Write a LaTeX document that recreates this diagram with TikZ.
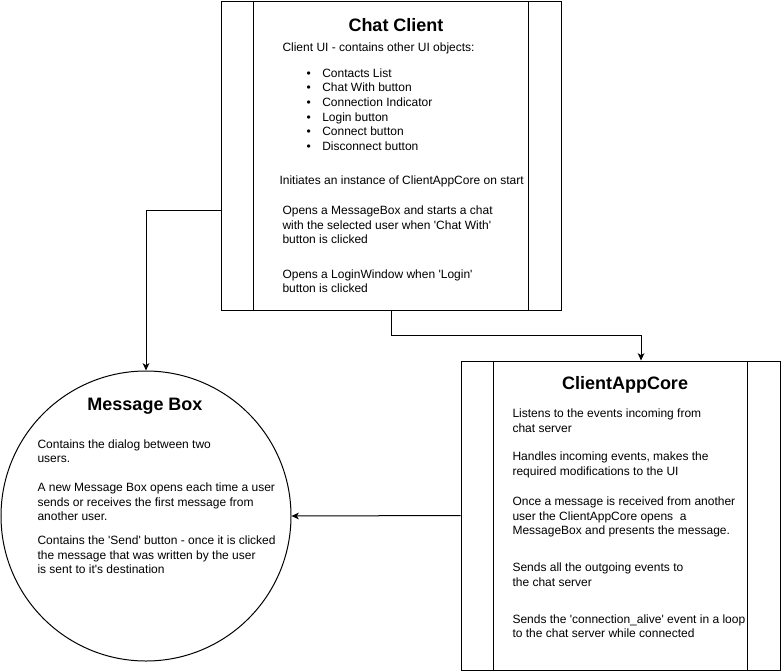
\documentclass[tikz,border=0pt]{standalone}
\usepackage{fontspec}
\newfontfamily\drawfont{Liberation Sans}
\usetikzlibrary{arrows.meta}
\begin{document}
\begin{tikzpicture}
            [x=0.75pt, y=-0.75pt, line width=0.75pt,
             proc/.style ={draw, rectangle, inner sep=0pt,
               path picture={
                 \draw ([xshift=24.5pt]path picture bounding box.north west) -- ([xshift=24.5pt]path picture bounding box.south west);
                 \draw ([xshift=-24.5pt]path picture bounding box.north east) -- ([xshift=-24.5pt]path picture bounding box.south east);}},
             main/.style ={draw, circle, inner sep=0pt, minimum size=217.5pt},
             title/.style ={font=\drawfont\bfseries\fontsize{13.5}{16}\selectfont, inner sep=0pt},
             txt/.style ={font=\drawfont\fontsize{9}{10.9}\selectfont, align=left, anchor=west, inner sep=0pt},
             arr/.style ={-{Stealth[length=5.5pt,width=5pt,inset=1.5pt]}}]
            \useasboundingbox (0,0) rectangle (781,671);
            % the three blocks
            \node[proc, minimum width=255pt, minimum height=231.75pt] (chat) at (391,155.5) {};
            \node[proc, minimum width=239.25pt, minimum height=231.75pt] (core) at (620.5,515.5) {};
            \node[main] (msg) at (146,516) {};
            % Chat Client
            \node[title] (chattitle) at (396,25) {Chat Client};
            \node[txt] (chatui) at (282,48) {Client UI - contains other UI objects:};
            \node[txt] (chatlist) at (306,109.5) {\textbullet\hspace{8.7pt}Contacts List\\
              \textbullet\hspace{8.7pt}Chat With button\\
              \textbullet\hspace{8.7pt}Connection Indicator\\
              \textbullet\hspace{8.7pt}Login button\\
              \textbullet\hspace{8.7pt}Connect button\\
              \textbullet\hspace{8.7pt}Disconnect button};
            \node[txt] (chatinit) at (279,181) {Initiates an instance of ClientAppCore on start};
            \node[txt] (chatopen) at (282,225) {Opens a MessageBox and starts a chat\\with the selected user when 'Chat With'\\button is clicked};
            \node[txt] (chatlogin) at (282,281) {Opens a LoginWindow when 'Login'\\button is clicked};
            % Message Box
            \node[title] (msgtitle) at (145,406) {Message Box};
            \node[txt] (msgdialog) at (37,451) {Contains the dialog between two\\users.};
            \node[txt] (msgnew) at (37,502) {A new Message Box opens each time a user\\sends or receives the first message from\\another user.};
            \node[txt] (msgsend) at (37,555) {Contains the 'Send' button - once it is clicked\\the message that was written by the user\\is sent to it's destination};
            % ClientAppCore
            \node[title] (coretitle) at (625,385) {ClientAppCore};
            \node[txt] (corelisten) at (512,420.5) {Listens to the events incoming from\\chat server};
            \node[txt] (corehandle) at (512,465) {Handles incoming events, makes the\\required modifications to the UI};
            \node[txt] (coreonce) at (512,517) {Once a message is received from another\\user the ClientAppCore opens\ \ a\\MessageBox and presents the message.};
            \node[txt] (coresends) at (512,574.5) {Sends all the outgoing events to\\the chat server};
            \node[txt] (corealive) at (512,626) {Sends the 'connection\_alive' event in a loop\\to the chat server while connected};
            % connectors
            \draw[arr] (chat.south) -- ++(0,25) -| ([xshift=15.4pt]core.north);
            \draw[arr] ([yshift=-41.6pt]chat.west) -| (msg.north);
            \draw[arr] (core.west) -- (msg.east);
        \end{tikzpicture}
\end{document}
